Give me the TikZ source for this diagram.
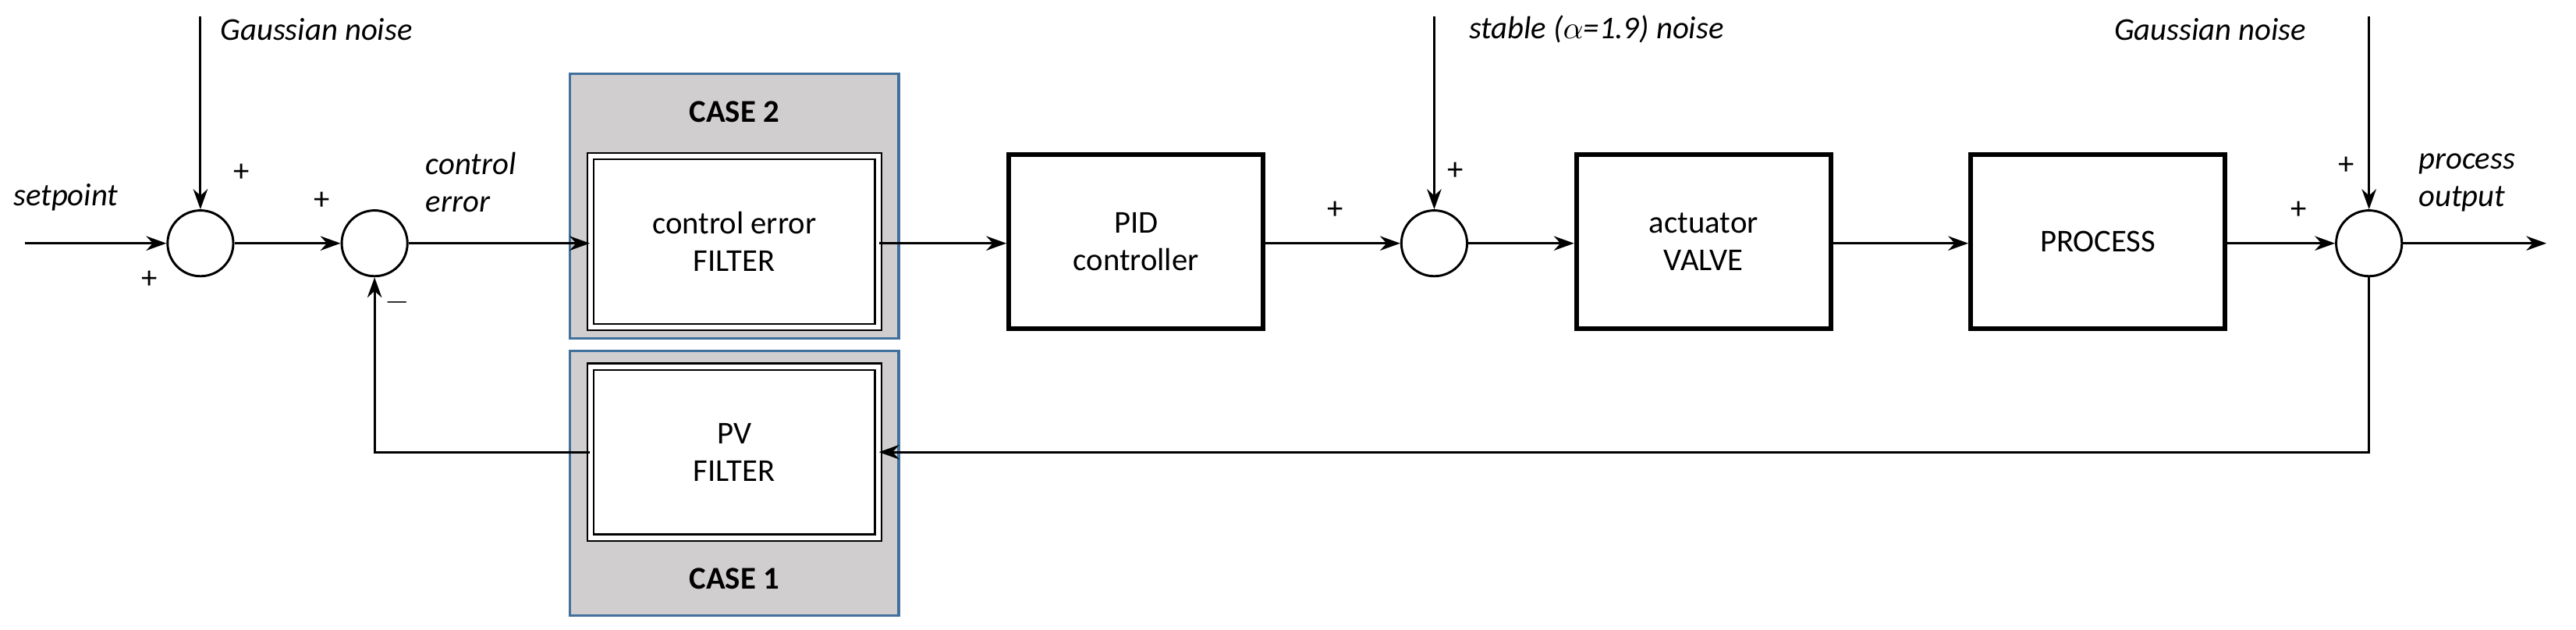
\documentclass[tikz,border=0pt]{standalone}
\usepackage{fontspec}
\setmainfont{Carlito}
\usetikzlibrary{arrows.meta}
\definecolor{casegray}{HTML}{D0CECE}
\definecolor{caseblue}{HTML}{41719C}
\begin{document}
\begin{tikzpicture}[x=0.02cm,y=-0.02cm,
  every node/.style={font=\fontsize{11}{13}\selectfont},
  sum/.style={draw,circle,minimum size=0.8cm,inner sep=0pt,line width=0.8pt},
  blk/.style={draw,line width=1.6pt,minimum width=3.1cm,minimum height=2.12cm,align=center},
  dblk/.style={draw,double,double distance=1.6pt,line width=0.6pt,fill=white,minimum width=3.5cm,minimum height=2.08cm,align=center},
  case/.style={draw=caseblue,line width=0.9pt,fill=casegray,minimum width=4cm,minimum height=3.22cm},
  arr/.style={-{Stealth[length=7pt,width=5pt]},line width=0.8pt},
  lab/.style={font=\fontsize{11}{13}\selectfont\itshape,align=left},
  pm/.style={font=\fontsize{11}{13}\selectfont,inner sep=0pt}]
\useasboundingbox (0,0) rectangle (1568,383);
% case boxes
\node[case] (c2) at (447,125.5) {};
\node[case] (c1) at (447,294) {};
\node[font=\fontsize{11}{13}\selectfont\bfseries] (c2t) at (447,68) {CASE 2};
\node[font=\fontsize{11}{13}\selectfont\bfseries] (c1t) at (447,352) {CASE 1};
\node[dblk] (cef) at (447,147) {control error\\FILTER};
\node[dblk] (pvf) at (447,275) {PV\\FILTER};
% sums
\node[sum] (s1) at (122,148) {};
\node[sum] (s2) at (228,148) {};
\node[sum] (s3) at (873,148) {};
\node[sum] (s4) at (1442,148) {};
% blocks
\node[blk] (pid) at (691.5,147) {PID\\controller};
\node[blk] (act) at (1037,147) {actuator\\VALVE};
\node[blk] (proc) at (1277,147) {PROCESS};
% coordinates
\coordinate (in) at (15,148);
\coordinate (out) at (1550,148);
\coordinate (n1) at (122,10);
\coordinate (n3) at (873,10);
\coordinate (n4) at (1442,10);
\coordinate (fb1) at (1442,275);
\coordinate (fb2) at (228,275);
% labels
\node[lab,anchor=west] (tg1) at (128,18) {Gaussian noise};
\node[lab,anchor=west] (ts) at (888,18) {stable ($\alpha$=1.9) noise};
\node[lab,anchor=east] (tg2) at (1410,18) {Gaussian noise};
\node[lab,anchor=west] (tsp) at (2,120) {setpoint};
\node[lab,anchor=west] (tce) at (253,111) {control\\error};
\node[lab,anchor=west] (tpo) at (1466,111) {process\\output};
\node[pm] (p1) at (147,105) {+};
\node[pm] (p2) at (91,170) {+};
\node[pm] (p3) at (196,122) {+};
\node[pm] (p4) at (242,184) {$-$};
\node[pm] (p5) at (813,128) {+};
\node[pm] (p6) at (886,104) {+};
\node[pm] (p7) at (1399,128) {+};
\node[pm] (p8) at (1428,101) {+};
% connectors
\draw[arr] (in) -- (s1);
\draw[arr] (n1) -- (s1);
\draw[arr] (s1) -- (s2);
\draw[arr] (s2) -- (cef.west |- s2);
\draw[arr] (cef.east |- s2) -- (pid.west |- s2);
\draw[arr] (pid.east |- s3) -- (s3);
\draw[arr] (n3) -- (s3);
\draw[arr] (s3) -- (act.west |- s3);
\draw[arr] (act.east |- s3) -- (proc.west |- s3);
\draw[arr] (proc.east |- s4) -- (s4);
\draw[arr] (n4) -- (s4);
\draw[arr] (s4) -- (out);
\draw[arr] (s4) -- (fb1) -- (pvf.east);
\draw[arr] (pvf.west) -- (fb2) -- (s2);
\end{tikzpicture}
\end{document}
